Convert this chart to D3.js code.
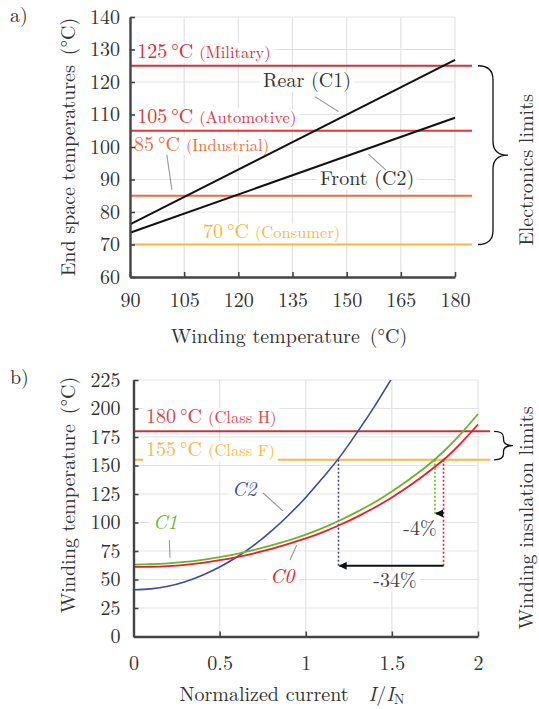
<!DOCTYPE html>
<html>
<head>
<meta charset="utf-8">
<script src="https://cdn.jsdelivr.net/npm/d3@7"></script>
<style>
  body { margin: 0; background: #fff; }
</style>
</head>
<body>
<svg id="fig" width="539" height="709"></svg>
<script>
// ---- data, panel a) ----
const windingTemp = [90, 180];
const rearC1 = [76.2, 126.8];
const frontC2 = [73.6, 109.0];
const ticksWinding = [90, 105, 120, 135, 150, 165, 180];
const ticksEndSpace = [60, 70, 80, 90, 100, 110, 120, 130, 140];
const electronicsValues = [125, 105, 85, 70];
const electronicsNames = ["Military", "Automotive", "Industrial", "Consumer"];

// ---- data, panel b) ----
const currentI = [0, 0.1, 0.2, 0.3, 0.4, 0.5, 0.6, 0.7, 0.8, 0.9, 1.0,
  1.1, 1.2, 1.3, 1.4, 1.5, 1.6, 1.7, 1.8, 1.9, 2.0];
const tempC0 = [61.0, 61.2, 61.8, 62.9, 64.6, 66.9, 69.7, 73.0, 76.8, 81.2, 86.0,
  91.6, 98.0, 105.2, 113.2, 122.0, 132.0, 143.0, 155.0, 169.5, 186.0];
const tempC1 = [63.1, 63.4, 64.1, 65.4, 67.3, 69.7, 72.5, 76.0, 79.9, 84.3, 89.4,
  95.3, 102.0, 109.5, 117.8, 127.2, 137.7, 149.1, 162.3, 177.8, 195.2];
const currentC2 = [0, 0.1, 0.2, 0.3, 0.4, 0.5, 0.6, 0.7, 0.8, 0.9, 1.0,
  1.1, 1.2, 1.3, 1.4, 1.5];
const tempC2 = [41.0, 41.8, 44.1, 48.1, 53.7, 60.9, 69.7, 80.2, 92.5, 106.4, 122.0,
  139.4, 158.0, 179.4, 202.1, 226.6];
const ticksCurrent = [0, 0.5, 1, 1.5, 2];
const ticksWindingB = [0, 25, 50, 75, 100, 125, 150, 175, 200, 225];
const insulationValues = [180, 155];
const insulationNames = ["Class H", "Class F"];
// current where each curve hits 155 °C
const limitC0 = 1.80, limitC1 = 1.75, limitC2 = 1.19;

const FONT = 20;
const SERIF = "'Latin Modern Roman', 'Liberation Serif', serif";
const svg = d3.select("#fig");
svg.append("defs").append("marker")
  .attr("id", "arr").attr("viewBox", "0 0 10 10")
  .attr("refX", 9).attr("refY", 5)
  .attr("markerWidth", 4).attr("markerHeight", 4)
  .attr("orient", "auto")
  .append("path").attr("d", "M0,0 L10,5 L0,10 z").attr("fill", "#111");

// font has to go in inline style to stick
function font(sel, size) {
  return sel.style("font-family", SERIF).style("font-size", (size || FONT) + "px");
}

// grid lines behind everything
function drawGrid(g, x, y, xt, yt) {
  const [x0, x1] = x.range(), [y0, y1] = y.range();
  g.append("g").selectAll("line").data(xt).join("line")
    .attr("x1", d => x(d)).attr("x2", d => x(d)).attr("y1", y0).attr("y2", y1)
    .attr("stroke", "#e3e3e3").attr("stroke-width", 1.2);
  g.append("g").selectAll("line").data(yt).join("line")
    .attr("y1", d => y(d)).attr("y2", d => y(d)).attr("x1", x0).attr("x2", x1)
    .attr("stroke", "#e3e3e3").attr("stroke-width", 1.2);
}

function drawAxes(g, x, y, xt, yt, xfmt, xpad, ypad) {
  const ax = g.append("g").attr("transform", `translate(0,${y.range()[0]})`)
    .call(d3.axisBottom(x).tickValues(xt).tickFormat(xfmt)
      .tickSizeInner(-5).tickSizeOuter(0).tickPadding(xpad));
  const ay = g.append("g").attr("transform", `translate(${x.range()[0]},0)`)
    .call(d3.axisLeft(y).tickValues(yt).tickFormat(d => d)
      .tickSizeInner(-5).tickSizeOuter(0).tickPadding(ypad));
  [ax, ay].forEach(a => {
    a.select(".domain").attr("stroke", "#444").attr("stroke-width", 2.4);
    a.selectAll(".tick line").attr("stroke", "#444").attr("stroke-width", 1.6);
    font(a.selectAll(".tick text"), FONT).attr("fill", "#333");
  });
}

// text with a tight white box behind it (box measured from the baseline)
function boxedLabel(g, px, py, parts, opts = {}) {
  const lg = g.append("g");
  const t = font(lg.append("text"), FONT).attr("x", px).attr("y", py)
    .attr("text-anchor", opts.anchor || "start");
  parts.forEach(p => {
    const s = font(t.append("tspan"), p.size || FONT).text(p.t)
      .attr("fill", p.color || opts.color || "#333");
    if (p.italic) s.style("font-style", "italic");
    if (p.dx) s.attr("dx", p.dx);
  });
  const b = t.node().getBBox();
  const top = py - 0.74 * FONT, bottom = py + (opts.below || 0.22 * FONT);
  lg.insert("rect", "text")
    .attr("x", b.x - 3).attr("y", top)
    .attr("width", b.width + 6).attr("height", bottom - top)
    .attr("fill", "#fff");
  return lg;
}

function leader(g, x, y, a, b) {
  g.append("line")
    .attr("x1", x(a[0])).attr("y1", y(a[1]))
    .attr("x2", x(b[0])).attr("y2", y(b[1]))
    .attr("stroke", "#999").attr("stroke-width", 1.1);
}

// curly brace opening to the right
function brace(g, x0, y1, y2, w, r) {
  const xm = x0 + w / 2, ym = (y1 + y2) / 2;
  g.append("path")
    .attr("d", `M${x0},${y1} Q${xm},${y1} ${xm},${y1 + r} L${xm},${ym - r}
      Q${xm},${ym} ${x0 + w},${ym} Q${xm},${ym} ${xm},${ym + r}
      L${xm},${y2 - r} Q${xm},${y2} ${x0},${y2}`)
    .attr("fill", "none").attr("stroke", "#111").attr("stroke-width", 1.3);
}

function plainText(px, py, str, anchor) {
  return font(svg.append("text"), FONT).attr("x", px).attr("y", py)
    .attr("fill", "#333").attr("text-anchor", anchor || "start").text(str);
}

function sideTitle(px, py, str) {
  font(svg.append("text"), FONT)
    .attr("transform", `translate(${px},${py}) rotate(-90)`)
    .attr("fill", "#333").attr("text-anchor", "middle").text(str);
}

// ================= panel a) =================
const xA = d3.scaleLinear().domain([90, 180]).range([130, 455]);
const yA = d3.scaleLinear().domain([60, 140]).range([277, 17]);
const gA = svg.append("g");
const colorsA = ["#d42f38", "#e2343c", "#ef6a3c", "#f7b843"];
const limitEndA = 184.7;

drawGrid(gA, xA, yA, ticksWinding, ticksEndSpace);

gA.append("g").selectAll("line").data(electronicsValues).join("line")
  .attr("x1", xA(90)).attr("x2", xA(limitEndA))
  .attr("y1", d => yA(d)).attr("y2", d => yA(d))
  .attr("stroke", (d, i) => colorsA[i]).attr("stroke-width", 2);

const labPosA = [[92.0, 127.4], [92.0, 107.3], [91.1, 98.9], [110.2, 71.9]];
electronicsValues.forEach((v, i) => {
  boxedLabel(gA, xA(labPosA[i][0]), yA(labPosA[i][1]), [
    { t: v + "\u2009\u00B0C" },
    { t: "(" + electronicsNames[i] + ")", size: 16.5, dx: 6 }
  ], { color: colorsA[i] });
});
leader(gA, xA, yA, [100.2, 97.6], [101.6, 86.8]);

boxedLabel(gA, xA(126.8), yA(118.5), [{ t: "Rear (C1)" }]);
boxedLabel(gA, xA(142.6), yA(88.3), [{ t: "Front (C2)" }]);
leader(gA, xA, yA, [141.2, 115.5], [147.7, 110.9]);
leader(gA, xA, yA, [156.0, 97.8], [160.9, 92.9]);

const lineA = d3.line().x((d, i) => xA(windingTemp[i])).y(d => yA(d));
[rearC1, frontC2].forEach(s => {
  gA.append("path").datum(s).attr("d", lineA)
    .attr("fill", "none").attr("stroke", "#111").attr("stroke-width", 2);
});

drawAxes(gA, xA, yA, ticksWinding, ticksEndSpace, d => d, 16, 10);
brace(gA, 478, yA(125), yA(70), 30, 14);

plainText(10, 22, "a)");
sideTitle(75, 147, "End space temperatures\u2002(\u00B0C)");
sideTitle(533, 170, "Electronics limits");
plainText(289, 343, "Winding temperature\u2002(\u00B0C)", "middle");

// ================= panel b) =================
const xB = d3.scaleLinear().domain([0, 2]).range([133.5, 478]);
const yB = d3.scaleLinear().domain([0, 225]).range([636.5, 380]);
const gB = svg.append("g");
const colorsB = ["#c8333c", "#f7b843"];
const curveColors = { c0: "#ee1d25", c1: "#6bb52e", c2: "#3b4a9c" };
const limitEndB = 2.07;

svg.select("defs").append("clipPath").attr("id", "clipB")
  .append("rect").attr("x", xB(0)).attr("y", yB(225))
  .attr("width", xB(2) - xB(0) + 4).attr("height", yB(0) - yB(225));

drawGrid(gB, xB, yB, ticksCurrent, ticksWindingB);

gB.append("g").selectAll("line").data(insulationValues).join("line")
  .attr("x1", xB(0)).attr("x2", xB(limitEndB))
  .attr("y1", d => yB(d)).attr("y2", d => yB(d))
  .attr("stroke", (d, i) => colorsB[i]).attr("stroke-width", 2);

const labPosB = [[0.073, 187.3], [0.073, 158.3]];
insulationValues.forEach((v, i) => {
  boxedLabel(gB, xB(labPosB[i][0]), yB(labPosB[i][1]), [
    { t: v + "\u2009\u00B0C" },
    { t: "(" + insulationNames[i] + ")", size: 16.5, dx: 6 }
  ], { color: i === 0 ? "#d6444c" : colorsB[i], below: i === 1 ? 5.5 : 0 });
});

// dotted drops from the 155 °C crossings
const drops = [[limitC2, 62, curveColors.c2], [limitC0, 62, curveColors.c0], [limitC1, 108, curveColors.c1]];
gB.append("g").selectAll("line").data(drops).join("line")
  .attr("x1", d => xB(d[0])).attr("x2", d => xB(d[0]))
  .attr("y1", yB(155)).attr("y2", d => yB(d[1]))
  .attr("stroke", d => d[2]).attr("stroke-width", 1.6)
  .attr("stroke-dasharray", "2,2");

// arrows
[[limitC0, limitC2, 62], [limitC0, limitC1, 108]].forEach(a => {
  gB.append("line")
    .attr("x1", xB(a[0])).attr("x2", xB(a[1]) + 1)
    .attr("y1", yB(a[2])).attr("y2", yB(a[2]))
    .attr("stroke", "#111").attr("stroke-width", 2)
    .attr("marker-end", "url(#arr)");
});
boxedLabel(gB, xB(1.518), yB(43.4), [{ t: "-34%" }], { anchor: "middle", color: "#444" });
boxedLabel(gB, xB(1.663), yB(89.0), [{ t: "-4%" }], { anchor: "middle", color: "#444" });

// curves
const lineB = xs => d3.line().curve(d3.curveMonotoneX)
  .x((d, i) => xB(xs[i])).y(d => yB(d));
const curvesG = gB.append("g").attr("clip-path", "url(#clipB)");
curvesG.append("path").datum(tempC2).attr("d", lineB(currentC2))
  .attr("fill", "none").attr("stroke", curveColors.c2).attr("stroke-width", 1.6);
curvesG.append("path").datum(tempC1).attr("d", lineB(currentI))
  .attr("fill", "none").attr("stroke", curveColors.c1).attr("stroke-width", 1.8);
curvesG.append("path").datum(tempC0).attr("d", lineB(currentI))
  .attr("fill", "none").attr("stroke", curveColors.c0).attr("stroke-width", 1.8);

boxedLabel(gB, xB(0.572), yB(123.2), [{ t: "C2", italic: true }], { color: curveColors.c2 });
boxedLabel(gB, xB(0.113), yB(94.3), [{ t: "C1", italic: true }], { color: curveColors.c1 });
boxedLabel(gB, xB(0.792), yB(47.0), [{ t: "C0", italic: true }], { color: curveColors.c0 });
leader(gB, xB, yB, [0.752, 125.9], [0.868, 110.1]);
leader(gB, xB, yB, [0.208, 84.6], [0.212, 69.1]);
leader(gB, xB, yB, [0.909, 67.1], [0.947, 80.3]);

drawAxes(gB, xB, yB, ticksCurrent, ticksWindingB, d => d, 19, 13);
brace(gB, 494, yB(180), yB(155), 19, 6);

plainText(10, 384, "b)");
sideTitle(75, 495, "Winding temperature\u2002(\u00B0C)");
sideTitle(533, 518, "Winding insulation limits");
const tb = plainText(292, 701, "", "middle");
tb.append("tspan").text("Normalized current\u2003");
tb.append("tspan").style("font-style", "italic").text("I");
tb.append("tspan").text("/");
tb.append("tspan").style("font-style", "italic").text("I");
font(tb.append("tspan"), 14).attr("dy", 3).text("N");
</script>
</body>
</html>
